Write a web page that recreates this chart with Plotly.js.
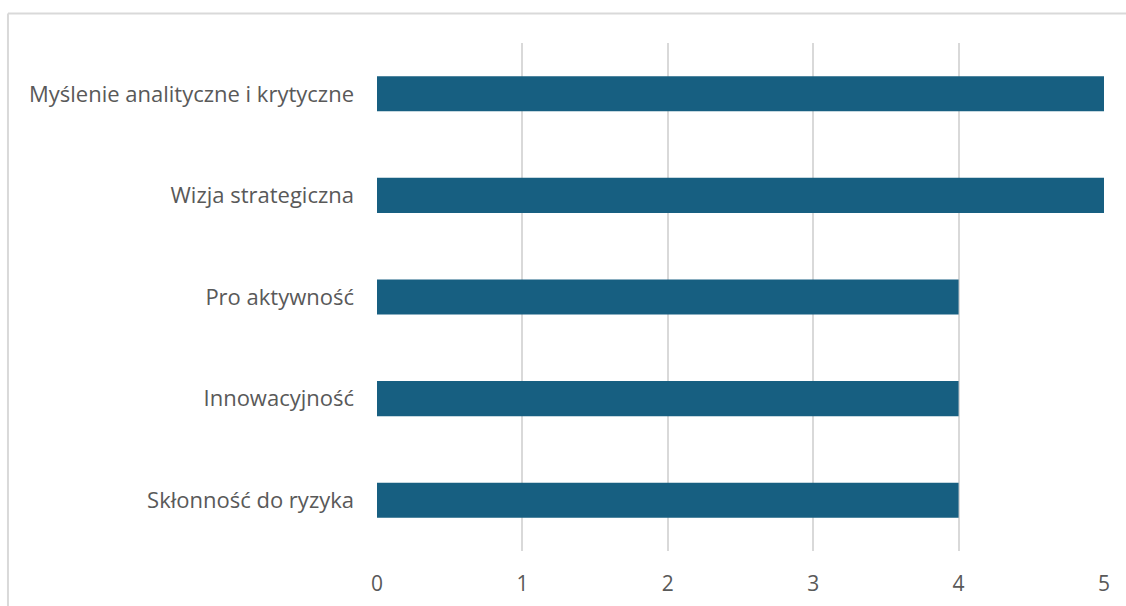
<!DOCTYPE html>
<html>
<head>
<meta charset="utf-8">
<script src="https://cdn.plot.ly/plotly-3.0.1.min.js"></script>
<style>
  html, body { margin: 0; padding: 0; background: #ffffff; }
  #chart { width: 1126px; height: 606px; }
</style>
</head>
<body>
<div id="chart"></div>
<script>
// Competency ratings (scale 0–5), listed bottom to top
const categories = [
  "Skłonność do ryzyka",
  "Innowacyjność",
  "Pro aktywność",
  "Wizja strategiczna",
  "Myślenie analityczne i krytyczne"
];
const ratings = [4, 4, 4, 5, 5];
const tickValues = [0, 1, 2, 3, 4, 5];

const barColor = "#175f81";
const textColor = "#595959";
const gridColor = "#d9d9d9";
const fontFamily = "Open Sans, Liberation Sans, Arial, sans-serif";

const trace = {
  type: "bar",
  orientation: "h",
  x: ratings,
  y: categories,
  marker: { color: barColor },
  hoverinfo: "x+y"
};

const layout = {
  width: 1126,
  height: 606,
  margin: { l: 377, r: 22, t: 43, b: 55 },
  paper_bgcolor: "#ffffff",
  plot_bgcolor: "#ffffff",
  bargap: 0.655,
  showlegend: false,
  font: { family: fontFamily, size: 21, color: textColor },
  xaxis: {
    range: [0, 5],
    tickvals: tickValues,
    ticktext: tickValues.map(String),
    tickfont: { size: 21 },
    showgrid: true,
    gridcolor: gridColor,
    gridwidth: 2,
    zeroline: false,
    showline: false,
    ticks: "",
    ticklabelstandoff: 18,
    fixedrange: true
  },
  yaxis: {
    type: "category",
    tickfont: { size: 22 },
    showgrid: false,
    zeroline: false,
    showline: false,
    ticks: "",
    ticklabelstandoff: 22,
    fixedrange: true
  },
  shapes: [
    // outer frame: top and left edges
    { type: "line", xref: "paper", yref: "paper", x0: -0.5076, x1: 1.04, y0: 1.058, y1: 1.058,
      line: { color: gridColor, width: 2 } },
    { type: "line", xref: "paper", yref: "paper", x0: -0.5076, x1: -0.5076, y0: 1.058, y1: -0.12,
      line: { color: gridColor, width: 2 } }
  ]
};

Plotly.newPlot("chart", [trace], layout, { displayModeBar: false, staticPlot: true });
</script>
</body>
</html>
